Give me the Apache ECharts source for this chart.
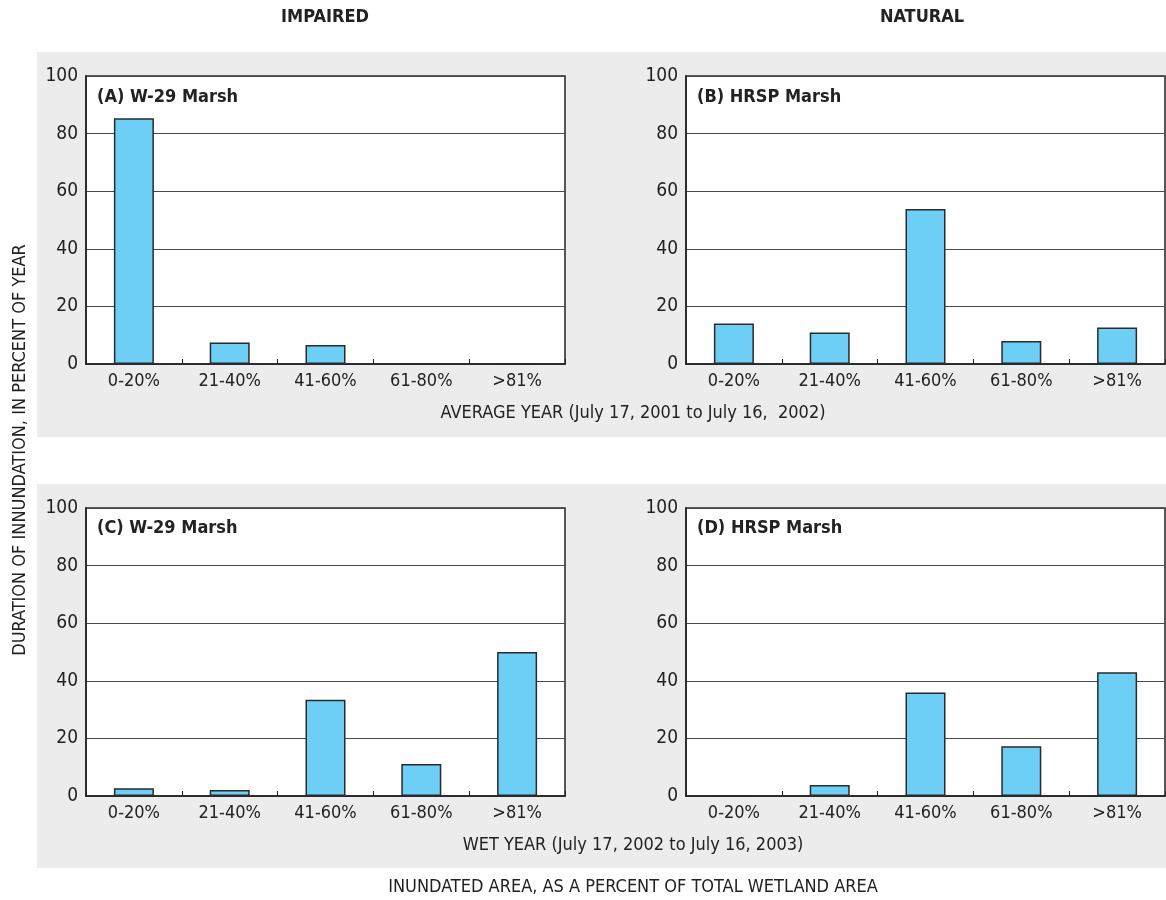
<!DOCTYPE html>
<html>
<head>
<meta charset="utf-8">
<script src="https://cdn.jsdelivr.net/npm/echarts@6/dist/echarts.min.js"></script>
<style>
html,body{margin:0;padding:0;background:#fff;}
#chart{width:1166px;height:900px;}
</style>
</head>
<body>
<div id="chart"></div>
<script>
// ---- data ----
const categories = ['0-20%', '21-40%', '41-60%', '61-80%', '>81%'];
const yTicks = [0, 20, 40, 60, 80, 100];
const panelA = [85.3, 7.5, 6.6, 0, 0];      // W-29 Marsh, average year
const panelB = [14.1, 10.9, 53.8, 8.0, 12.7]; // HRSP Marsh, average year
const panelC = [2.7, 2.1, 33.4, 11.1, 50.0];  // W-29 Marsh, wet year
const panelD = [0, 3.8, 35.9, 17.3, 43.0];    // HRSP Marsh, wet year
const panelTitles = ['(A) W-29 Marsh', '(B) HRSP Marsh', '(C) W-29 Marsh', '(D) HRSP Marsh'];
const columnHeaders = ['IMPAIRED', 'NATURAL'];
const rowLabels = ['AVERAGE YEAR (July 17, 2001 to July 16,  2002)', 'WET YEAR (July 17, 2002 to July 16, 2003)'];
const xTitle = 'INUNDATED AREA, AS A PERCENT OF TOTAL WETLAND AREA';
const yTitle = 'DURATION OF INNUNDATION, IN PERCENT OF YEAR';

const FONT = '"Liberation Sans Narrow", "DejaVu Sans Condensed", "Roboto Condensed", sans-serif';
const series = [panelA, panelB, panelC, panelD];

const gridPos = [
  {left: 86, top: 76}, {left: 686, top: 76},
  {left: 86, top: 508}, {left: 686, top: 508}
];

const grids = gridPos.map(p => ({
  left: p.left, top: p.top, width: 479, height: 288,
  show: true, backgroundColor: '#ffffff', borderColor: '#222', borderWidth: 1.5
}));

const xAxes = gridPos.map((p, i) => ({
  type: 'category', gridIndex: i, data: categories,
  axisLine: {show: true, lineStyle: {color: '#222', width: 1.5}},
  axisTick: {show: true, inside: true, length: 5, lineStyle: {color: '#222', width: 1}},
  axisLabel: {color: '#222', fontFamily: FONT, fontSize: 18, margin: 8},
  splitLine: {show: false}
}));

const yAxes = gridPos.map((p, i) => ({
  type: 'value', gridIndex: i, min: 0, max: 100, interval: 20,
  axisLine: {show: true, lineStyle: {color: '#222', width: 1.5}},
  axisTick: {show: false},
  axisLabel: {color: '#222', fontFamily: FONT, fontSize: 19, margin: 8,
    formatter: v => yTicks.includes(v) ? String(v) : ''},
  splitLine: {show: true, lineStyle: {color: '#4a4a4a', width: 1}}
}));

const seriesOpts = series.map((d, i) => ({
  type: 'bar', xAxisIndex: i, yAxisIndex: i, data: d, barWidth: 40,
  itemStyle: {color: '#6dcff6', borderColor: '#2a2a2a', borderWidth: 1.5},
  silent: true, z: 3
}));

function txt(text, x, y, opts) {
  return {
    type: 'text', x: x, y: y, z: 10,
    style: Object.assign({
      text: text, fill: '#222', font: '18px ' + FONT,
      textAlign: 'center', textVerticalAlign: 'middle'
    }, opts || {})
  };
}

const graphics = [
  {type: 'rect', shape: {x: 37, y: 52, width: 1129, height: 385}, style: {fill: '#ececec'}, z: -10},
  {type: 'rect', shape: {x: 37, y: 484, width: 1129, height: 384}, style: {fill: '#ececec'}, z: -10},
  txt(columnHeaders[0], 325, 17, {font: 'bold 18px ' + FONT}),
  txt(columnHeaders[1], 922, 17, {font: 'bold 18px ' + FONT}),
  txt(rowLabels[0], 633, 413),
  txt(rowLabels[1], 633, 845),
  txt(xTitle, 633, 887),
  {type: 'text', x: 20, y: 450, rotation: Math.PI / 2, z: 10,
    style: {text: yTitle, fill: '#222', font: '18px ' + FONT, textAlign: 'center', textVerticalAlign: 'middle'}},
  txt(panelTitles[0], 97, 97, {font: 'bold 18px ' + FONT, textAlign: 'left'}),
  txt(panelTitles[1], 697, 97, {font: 'bold 18px ' + FONT, textAlign: 'left'}),
  txt(panelTitles[2], 97, 528, {font: 'bold 18px ' + FONT, textAlign: 'left'}),
  txt(panelTitles[3], 697, 528, {font: 'bold 18px ' + FONT, textAlign: 'left'})
];

const chart = echarts.init(document.getElementById('chart'), null, {renderer: 'canvas'});
chart.setOption({
  animation: false,
  backgroundColor: '#ffffff',
  grid: grids,
  xAxis: xAxes,
  yAxis: yAxes,
  series: seriesOpts,
  graphic: graphics
});
</script>
</body>
</html>
